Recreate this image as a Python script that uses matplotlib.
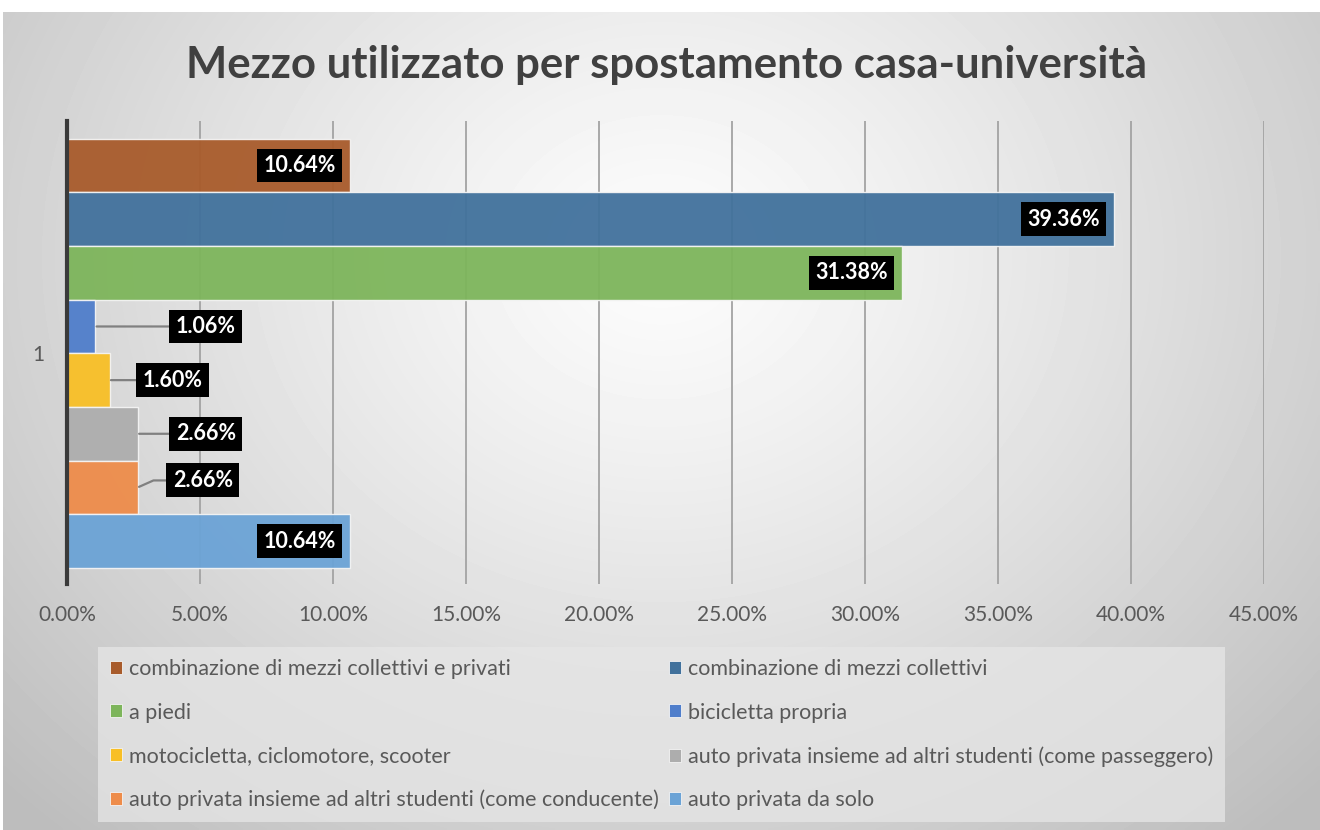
import numpy as np
import matplotlib.pyplot as plt
from matplotlib.patches import Patch

plt.rcParams['font.family'] = ['Lato', 'DejaVu Sans']

# Data (percent of students), top bar first
modes = ['combinazione di mezzi collettivi e privati',
         'combinazione di mezzi collettivi',
         'a piedi',
         'bicicletta propria',
         'motocicletta, ciclomotore, scooter',
         'auto privata insieme ad altri studenti (come passeggero)',
         'auto privata insieme ad altri studenti (come conducente)',
         'auto privata da solo']
values = [10.64, 39.36, 31.38, 1.06, 1.60, 2.66, 2.66, 10.64]
colors = ['#A85B2B', '#41719C', '#7DB55B', '#4F7ECB',
          '#F8BF26', '#ADADAD', '#EE8C4A', '#6BA3D6']
category = '1'
xticks = np.arange(0, 46, 5)

fig = plt.figure(figsize=(13.2, 8.3), dpi=100)

# radial grey background like the Excel chart style
bg = fig.add_axes([3 / 1320, 0, 1 - 3 / 1320, 1 - 12 / 830], zorder=-10)
gx, gy = np.meshgrid(np.linspace(0, 1, 400), np.linspace(0, 1, 260))
r = np.sqrt(((gx - 0.5) / 0.55) ** 2 + ((gy - 0.3) / 0.75) ** 2)
shade = np.clip(0.99 - 0.19 * r ** 1.2, 0.74, 1)
bg.imshow(shade, cmap='gray', vmin=0, vmax=1, aspect='auto',
          extent=(0, 1, 1, 0), interpolation='bilinear')
bg.axis('off')

ax = fig.add_axes([67 / 1320, 1 - 584 / 830, (1264 - 67) / 1320, (584 - 121) / 830])
ax.set_facecolor('none')

n = len(values)
ypos = np.arange(n)[::-1]
bars = ax.barh(ypos, values, height=1.0, color=colors, edgecolor='#f4f4f4',
               linewidth=1.0, alpha=0.95, zorder=3)

ax.set_xlim(0, 45)
ax.set_ylim(-0.5 - 0.3, n - 0.5 + 0.33)
ax.set_xticks(xticks)
ax.set_xticklabels([f'{t:.2f}%' for t in xticks])
ax.set_yticks([(n - 1) / 2])
ax.set_yticklabels([category])
ax.tick_params(axis='x', length=0, pad=15, labelsize=15, labelcolor='#595959')
ax.tick_params(axis='y', length=0, pad=16, labelsize=15, labelcolor='#595959')
ax.grid(axis='x', color='#a3a3a3', linewidth=1.3, zorder=0)
for side in ['top', 'right', 'bottom']:
    ax.spines[side].set_visible(False)
ax.spines['left'].set_color('#3a3a3a')
ax.spines['left'].set_linewidth(3)
ax.spines['left'].set_zorder(5)

box = dict(boxstyle='square,pad=0.3', facecolor='black', edgecolor='none')
# offsets (pixels) of the small labels, placed outside with leader lines
outside = {3: (110, 0, 'arc3'), 4: (63, 0, 'arc3'), 5: (68, 0, 'arc3'),
           6: (65, 7, 'angle,angleA=0,angleB=24,rad=0')}
for i, (v, y) in enumerate(zip(values, ypos)):
    label = f'{v:.2f}%'
    if i in outside:
        dx, dy, conn = outside[i]
        ax.annotate(label, xy=(v, y), xytext=(dx, dy), textcoords='offset pixels',
                    ha='center', va='center', fontsize=15.5, fontweight='bold',
                    color='white', bbox=box, zorder=6, annotation_clip=False,
                    arrowprops=dict(arrowstyle='-', color='#808080', lw=1.6,
                                    shrinkA=0, shrinkB=1, connectionstyle=conn))
    else:
        ax.annotate(label, xy=(v, y), xytext=(-14, 0), textcoords='offset pixels',
                    ha='right', va='center', fontsize=15.5, fontweight='bold',
                    color='white', bbox=box, zorder=6)

fig.text(667 / 1320, 1 - 78 / 830, 'Mezzo utilizzato per spostamento casa-università',
         ha='center', va='baseline', fontsize=31.5, fontweight='bold', color='#404040')

# legend laid out row by row (matplotlib fills columns first)
order = [0, 2, 4, 6, 1, 3, 5, 7]
handles = [Patch(facecolor=colors[k], edgecolor='#f4f4f4', linewidth=0.6,
                 label=modes[k]) for k in order]
leg = fig.legend(handles=handles, ncol=2, loc='upper left',
                 bbox_to_anchor=(98 / 1320, 1 - 647 / 830), borderaxespad=0,
                 frameon=True, fancybox=False, facecolor='#e6e6e6', edgecolor='none',
                 framealpha=0.75, fontsize=15.5, labelcolor='#595959',
                 handlelength=0.55, handleheight=0.55, handletextpad=0.35,
                 columnspacing=0.45, labelspacing=1.1, borderpad=0.55)

fig.savefig('out.png', dpi=100)
